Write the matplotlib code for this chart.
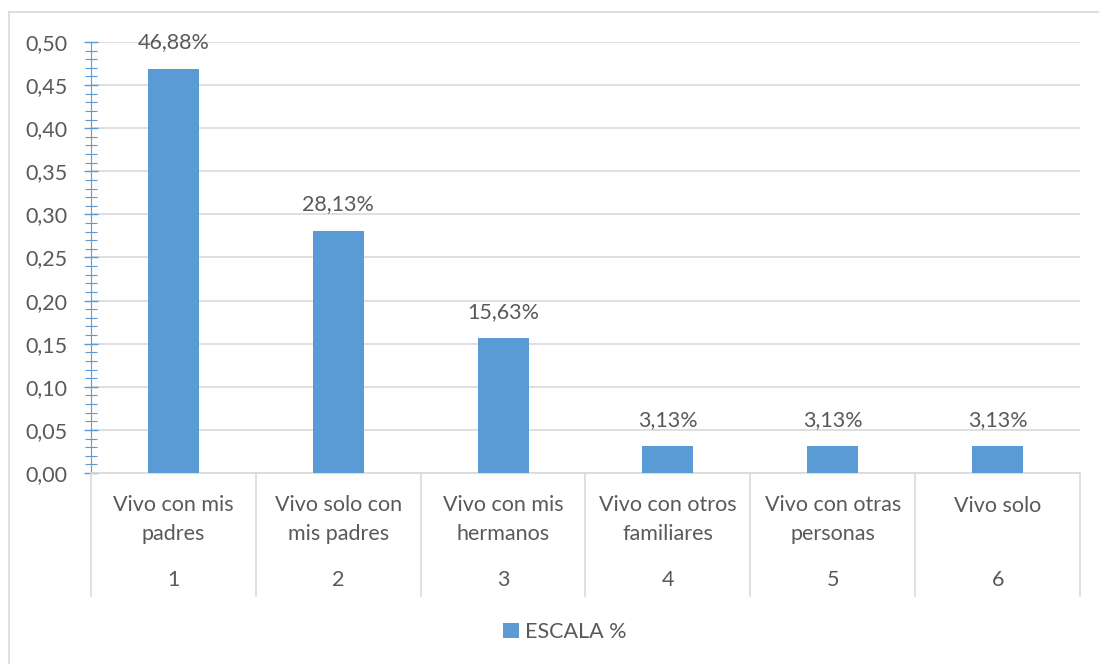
import matplotlib
matplotlib.use("Agg")
import matplotlib.pyplot as plt
from matplotlib.lines import Line2D
from matplotlib.ticker import MultipleLocator, FuncFormatter
import matplotlib.transforms as mtransforms

# data
codes = ['1', '2', '3', '4', '5', '6']
labels = ['Vivo con mis\npadres', 'Vivo solo con\nmis padres', 'Vivo con mis\nhermanos',
          'Vivo con otros\nfamiliares', 'Vivo con otras\npersonas', 'Vivo solo']
values = [0.4688, 0.2813, 0.1563, 0.0313, 0.0313, 0.0313]
value_labels = ['46,88%', '28,13%', '15,63%', '3,13%', '3,13%', '3,13%']

bar_col = '#5B9BD5'
txt_col = '#595959'
grid_col = '#D9D9D9'
fs = 15.5

plt.rcParams['font.family'] = ['Lato', 'DejaVu Sans']

fig = plt.figure(figsize=(10.99, 6.64), dpi=100)
ax = fig.add_axes([91 / 1099, 1 - 473 / 664, (1080 - 91) / 1099, (473 - 42) / 664])

x = list(range(len(values)))
ax.bar(x, values, width=0.31, color=bar_col, zorder=3, label='ESCALA %')
for xi, v, lab in zip(x, values, value_labels):
    ax.annotate(lab, (xi, v), xytext=(0, 19), textcoords='offset points',
                ha='center', va='center', fontsize=fs, color=txt_col)

ax.set_xlim(-0.5, len(values) - 0.5)
ax.set_ylim(0, 0.5)
ax.yaxis.set_major_locator(MultipleLocator(0.05))
ax.yaxis.set_minor_locator(MultipleLocator(0.01))
ax.yaxis.set_major_formatter(FuncFormatter(lambda v, p: f'{v:.2f}'.replace('.', ',')))
ax.grid(axis='y', color=grid_col, linewidth=1.2, zorder=0)
ax.tick_params(axis='y', which='both', direction='inout', color=bar_col, labelcolor=txt_col,
               labelsize=fs, pad=12)
ax.tick_params(axis='y', which='major', length=10, width=1)
ax.tick_params(axis='y', which='minor', length=8, width=0.8)
ax.set_xticks([])
for s in ['top', 'right']:
    ax.spines[s].set_visible(False)
ax.spines['left'].set_color(bar_col)
ax.spines['bottom'].set_color(grid_col)
ax.spines['bottom'].set_linewidth(1.2)

# multi-level category axis
trans = mtransforms.blended_transform_factory(ax.transData, ax.transAxes)
for b in [i - 0.5 for i in range(len(values) + 1)]:
    ax.add_line(Line2D([b, b], [0, -0.285], transform=trans, color=grid_col,
                       linewidth=1.2, clip_on=False))
for xi, lab, c in zip(x, labels, codes):
    if '\n' in lab:
        ax.text(xi, -0.108, lab, transform=trans, ha='center', va='center', fontsize=fs,
                color=txt_col, linespacing=1.55)
    else:
        ax.text(xi, -0.076, lab, transform=trans, ha='center', va='center', fontsize=fs,
                color=txt_col)
    ax.text(xi, -0.248, c, transform=trans, ha='center', va='center', fontsize=fs,
            color=txt_col)

leg = fig.legend(loc='center', bbox_to_anchor=(565 / 1099, 1 - 632 / 664), frameon=False,
                 fontsize=fs, handlelength=0.7, handleheight=0.7, handletextpad=0.3)
for t in leg.get_texts():
    t.set_color(txt_col)

# chart border
fig.add_artist(Line2D([9 / 1099, 1], [1 - 12 / 664, 1 - 12 / 664], color=grid_col, linewidth=1.2))
fig.add_artist(Line2D([9 / 1099, 9 / 1099], [0, 1 - 12 / 664], color=grid_col, linewidth=1.2))

fig.savefig('out.png', dpi=100)
